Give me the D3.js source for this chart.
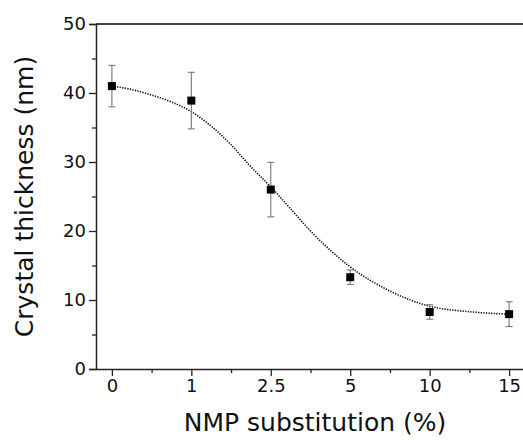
<!DOCTYPE html>
<html>
<head>
<meta charset="utf-8">
<script src="https://cdn.jsdelivr.net/npm/d3@7"></script>
<style>
  html, body { margin: 0; padding: 0; background: #fff; }
  svg { display: block; }
  text { font-family: "DejaVu Sans", "Liberation Sans", Arial, sans-serif; fill: #111; }
</style>
</head>
<body>
<script>
// ---- data ----
const categories = ["0", "1", "2.5", "5", "10", "15"];
const thickness = [41.0, 38.9, 26.0, 13.3, 8.26, 7.95];
const errors = [3.0, 4.1, 3.95, 1.05, 1.05, 1.8];
// fitted (dotted) curve, x in category-index units
const fitIndex = [0, 0.25, 0.5, 0.75, 1, 1.25, 1.5, 1.75, 2, 2.25, 2.5, 2.75, 3, 3.5, 4, 4.5, 5];
const fitValue = [41.0, 40.5, 39.7, 38.7, 37.3, 35.2, 32.5, 29.3, 26.4, 23.2, 20.0, 17.2, 14.8, 11.3, 9.1, 8.3, 7.95];
const yTicks = [0, 10, 20, 30, 40, 50];
const yMinorTicks = [5, 15, 25, 35, 45];
const xMinorTicks = [0.5, 1.5, 2.5, 3.5, 4.5];

const W = 523, H = 440;
const svg = d3.select("body").append("svg").attr("width", W).attr("height", H);

const x = d3.scaleLinear().domain([-0.2, 5.2]).range([96, 525]);
const y = d3.scaleLinear().domain([0, 50]).range([369, 24]);

// top frame line
svg.append("line")
  .attr("x1", x(-0.2)).attr("x2", x(5.2))
  .attr("y1", y(50)).attr("y2", y(50))
  .attr("stroke", "#444").attr("stroke-width", 2);

// y axis
const yAxis = d3.axisLeft(y).tickValues(yTicks).tickSize(7).tickPadding(3).tickFormat(d3.format("d"));
const gy = svg.append("g").attr("transform", `translate(${x(-0.2)},0)`).call(yAxis);
gy.select(".domain").attr("stroke", "#222").attr("stroke-width", 1.5);
gy.selectAll(".tick line").attr("stroke", "#222").attr("stroke-width", 1.3);
gy.selectAll(".tick text").style("font-size", "18px").attr("fill", "#111");
const gyMinor = svg.append("g").attr("transform", `translate(${x(-0.2)},0)`)
  .call(d3.axisLeft(y).tickValues(yMinorTicks).tickSize(4).tickFormat(""));
gyMinor.select(".domain").remove();
gyMinor.selectAll(".tick line").attr("stroke", "#222").attr("stroke-width", 1.3);

// x axis
const xAxis = d3.axisBottom(x).tickValues(d3.range(categories.length))
  .tickFormat(i => categories[i]).tickSize(7).tickPadding(3).tickSizeOuter(0);
const gx = svg.append("g").attr("transform", `translate(0,${y(0)})`).call(xAxis);
gx.select(".domain").attr("stroke", "#222").attr("stroke-width", 1.5);
gx.selectAll(".tick line").attr("stroke", "#222").attr("stroke-width", 1.3);
gx.selectAll(".tick text").style("font-size", "18px").attr("fill", "#111");
const gxMinor = svg.append("g").attr("transform", `translate(0,${y(0)})`)
  .call(d3.axisBottom(x).tickValues(xMinorTicks).tickSize(4).tickFormat(""));
gxMinor.select(".domain").remove();
gxMinor.selectAll(".tick line").attr("stroke", "#222").attr("stroke-width", 1.3);

// fitted dotted curve
const line = d3.line().x(d => x(d[0])).y(d => y(d[1])).curve(d3.curveMonotoneX);
svg.append("path")
  .datum(fitIndex.map((v, i) => [v, fitValue[i]]))
  .attr("d", line)
  .attr("fill", "none").attr("stroke", "#111")
  .attr("stroke-width", 1.6).attr("stroke-dasharray", "1.3,1.3");

// error bars
const eb = svg.append("g").attr("stroke", "#777").attr("stroke-width", 1.1);
thickness.forEach((v, i) => {
  const cx = x(i), top = y(v + errors[i]), bot = y(v - errors[i]);
  eb.append("line").attr("x1", cx).attr("x2", cx).attr("y1", top).attr("y2", bot);
  eb.append("line").attr("x1", cx - 3.5).attr("x2", cx + 3.5).attr("y1", top).attr("y2", top);
  eb.append("line").attr("x1", cx - 3.5).attr("x2", cx + 3.5).attr("y1", bot).attr("y2", bot);
});

// markers
svg.append("g").selectAll("rect").data(thickness).join("rect")
  .attr("x", (d, i) => x(i) - 4).attr("y", d => y(d) - 4)
  .attr("width", 8).attr("height", 8).attr("fill", "#000");

// axis titles
svg.append("text")
  .attr("transform", `translate(33,${(y(0) + y(50)) / 2}) rotate(-90)`)
  .attr("text-anchor", "middle")
  .style("font-size", "25px")
  .text("Crystal thickness (nm)");
svg.append("text")
  .attr("x", 315).attr("y", 431)
  .attr("text-anchor", "middle")
  .style("font-size", "25px")
  .text("NMP substitution (%)");
</script>
</body>
</html>
